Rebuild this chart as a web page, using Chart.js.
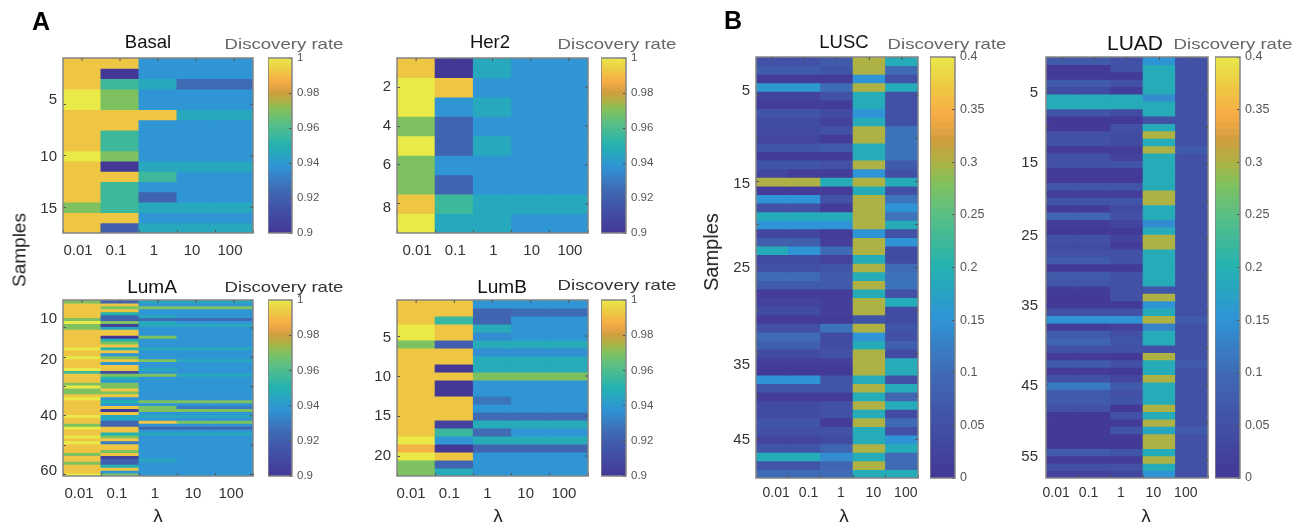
<!DOCTYPE html>
<html>
<head>
<meta charset="utf-8">
<title>Discovery rate</title>
<script src="https://cdn.jsdelivr.net/npm/chart.js"></script>
<style>
    html, body { margin: 0; padding: 0; background: #fff; }
    #page { position: relative; width: 1299px; height: 522px; overflow: hidden; font-family: "Liberation Sans", Arial, sans-serif; filter: blur(0.4px); }
    #page canvas { position: absolute; }
    .txt { position: absolute; white-space: nowrap; transform: translate(-50%, -50%); line-height: 1; }
</style>
</head>
<body>
<div id="page"></div>
<script>
// lambda values on the x axis of every heat map
const lambdaLabels = ['0.01', '0.1', '1', '10', '100'];

// one row per sample, one column per lambda
const basalRows = [
    [.992, .992, .938, .938, .938],
    [.992, .90, .938, .938, .938],
    [.992, .956, .946, .925, .925],
    [1, .969, .938, .938, .938],
    [1, .969, .938, .938, .938],
    [.992, .992, .992, .946, .946],
    [.992, .992, .938, .938, .938],
    [.992, .956, .938, .938, .938],
    [.992, .956, .938, .938, .938],
    [1, .969, .938, .938, .938],
    [.992, .90, .946, .946, .946],
    [.992, .992, .956, .938, .938],
    [.992, .956, .938, .938, .938],
    [.992, .956, .922, .938, .938],
    [.969, .956, .946, .946, .946],
    [.992, .992, .938, .938, .938],
    [.992, .92, .946, .946, .946]
];

const her2Rows = [
    [.992, .90, .946, .938, .938],
    [1, .992, .938, .938, .938],
    [1, .938, .946, .938, .938],
    [.969, .922, .938, .938, .938],
    [1, .922, .946, .938, .938],
    [.969, .938, .938, .938, .938],
    [.969, .922, .938, .938, .938],
    [.992, .956, .946, .946, .946],
    [1, .946, .946, .938, .938]
];

const lumaRows = [
    [.969, .922, .946, .946, .946],
    [.992, .992, .938, .938, .938],
    [.992, .969, .969, .969, .969],
    [.992, .992, .938, .938, .938],
    [.992, .95, .938, .938, .938],
    [.992, .922, .946, .938, .938],
    [.969, .922, .925, .925, .925],
    [1, .969, .946, .938, .938],
    [.969, .905, .946, .946, .946],
    [.969, .945, .938, .938, .938],
    [.992, .992, .938, .938, .938],
    [.992, .992, .938, .938, .938],
    [.992, .90, .969, .938, .938],
    [.992, .95, .938, .938, .938],
    [.992, .969, .938, .938, .938],
    [.992, .992, .938, .938, .938],
    [1, .95, .946, .946, .946],
    [.992, .992, .938, .938, .938],
    [.992, .938, .938, .938, .938],
    [1, .969, .938, .938, .938],
    [.992, .992, .969, .946, .946],
    [.992, .938, .938, .938, .938],
    [.992, .992, .938, .938, .938],
    [1, .992, .946, .938, .938],
    [.956, .91, .938, .938, .938],
    [.992, .969, .969, .946, .946],
    [.992, .95, .938, .938, .938],
    [.992, .938, .938, .938, .938],
    [.969, .969, .938, .938, .938],
    [1, .969, .938, .938, .938],
    [.969, .992, .938, .938, .938],
    [.969, .969, .938, .938, .938],
    [.992, .992, .938, .938, .938],
    [1, .938, .938, .938, .938],
    [.992, .95, .969, .969, .969],
    [.992, .938, .938, .938, .938],
    [.992, .992, .969, .93, .93],
    [.992, .90, .969, .969, .969],
    [.992, .992, .938, .938, .938],
    [1, .945, .946, .946, .946],
    [.992, .945, .938, .938, .938],
    [.992, .922, .992, .969, .969],
    [.969, .922, .938, .938, .938],
    [1, .992, .922, .922, .922],
    [.992, .992, .938, .938, .938],
    [.992, .95, .946, .946, .946],
    [1, .969, .938, .938, .938],
    [.992, .992, .938, .938, .938],
    [1, .93, .938, .938, .938],
    [.992, .992, .938, .938, .938],
    [.992, .992, .938, .938, .938],
    [.992, .969, .938, .938, .938],
    [.969, .992, .938, .938, .938],
    [.992, .905, .938, .938, .938],
    [.992, .92, .946, .938, .938],
    [.969, .92, .938, .938, .938],
    [.992, .95, .938, .938, .938],
    [.992, .992, .938, .938, .938],
    [.992, .938, .938, .938, .938],
    [1, .969, .938, .938, .938]
];

const lumbRows = [
    [.992, .992, .938, .938, .938],
    [.992, .992, .922, .925, .925],
    [.992, .955, .922, .938, .938],
    [1, .992, .947, .938, .938],
    [1, .992, .935, .938, .938],
    [.969, .92, .947, .947, .947],
    [.992, .992, .936, .936, .936],
    [.992, .992, .947, .947, .947],
    [.992, .90, .947, .947, .947],
    [.992, .992, .969, .969, .969],
    [.992, .90, .938, .938, .938],
    [.992, .90, .938, .938, .938],
    [.992, .992, .928, .938, .938],
    [.992, .992, .938, .938, .938],
    [.992, .992, .925, .925, .925],
    [.992, .905, .947, .947, .947],
    [.992, .955, .925, .938, .938],
    [1, .938, .948, .948, .948],
    [.988, .90, .922, .922, .922],
    [1, .992, .938, .938, .938],
    [.969, .922, .938, .938, .938],
    [.969, .947, .938, .938, .938]
];

const luscRows = [
    [.05, .05, .07, .30, .19],
    [.07, .07, .06, .30, .10],
    [.01, .01, .01, .15, .05],
    [.16, .16, .10, .30, .19],
    [.02, .02, .05, .19, .05],
    [.01, .01, .01, .19, .05],
    [.06, .06, .04, .15, .05],
    [.04, .04, .02, .19, .05],
    [.04, .04, .05, .30, .11],
    [.03, .03, .01, .30, .11],
    [.06, .06, .07, .19, .11],
    [.01, .01, .01, .19, .11],
    [.06, .06, .05, .30, .07],
    [.03, .01, .01, .15, .05],
    [.30, .30, .19, .30, .19],
    [.01, .01, .01, .19, .05],
    [.15, .15, .05, .30, .11],
    [.05, .05, .01, .30, .15],
    [.19, .19, .19, .30, .11],
    [.15, .15, .15, .30, .19],
    [.03, .03, .01, .15, .05],
    [.08, .08, .015, .30, .15],
    [.19, .15, .10, .30, .04],
    [.04, .04, .02, .19, .04],
    [.05, .05, .06, .30, .10],
    [.10, .10, .07, .19, .11],
    [.07, .07, .07, .30, .11],
    [.01, .01, .01, .19, .05],
    [.02, .02, .015, .30, .19],
    [.04, .04, .015, .30, .04],
    [.01, .01, .01, .06, .04],
    [.05, .05, .11, .30, .06],
    [.10, .10, .04, .15, .05],
    [.08, .08, .04, .19, .08],
    [.04, .04, .05, .30, .04],
    [.015, .015, .015, .30, .19],
    [.005, .005, .005, .30, .19],
    [.15, .15, .06, .19, .05],
    [.06, .06, .06, .30, .19],
    [.01, .01, .01, .19, .09],
    [.04, .04, .05, .30, .19],
    [.04, .04, .05, .19, .04],
    [.06, .06, .01, .30, .10],
    [.05, .05, .05, .19, .05],
    [.03, .03, .04, .19, .15],
    [.06, .06, .09, .30, .19],
    [.19, .19, .14, .19, .10],
    [.06, .06, .09, .30, .10],
    [.10, .10, .10, .19, .19]
];

const luadRows = [
    [.07, .07, .05, .15, .05],
    [.005, .005, .05, .19, .05],
    [.005, .005, .005, .19, .05],
    [.07, .07, .05, .19, .05],
    [.04, .04, .01, .19, .05],
    [.19, .19, .19, .14, .05],
    [.19, .19, .19, .19, .05],
    [.06, .06, .04, .19, .05],
    [.005, .005, .005, .05, .05],
    [.005, .005, .05, .19, .05],
    [.05, .05, .04, .30, .05],
    [.05, .05, .04, .19, .05],
    [.01, .01, .01, .30, .07],
    [.05, .05, .02, .19, .05],
    [.05, .05, .06, .19, .05],
    [.005, .005, .005, .19, .05],
    [.005, .005, .005, .19, .05],
    [.06, .06, .06, .19, .05],
    [.01, .01, .01, .30, .05],
    [.06, .06, .06, .30, .05],
    [.01, .01, .04, .19, .05],
    [.09, .09, .05, .19, .05],
    [.01, .01, .03, .14, .05],
    [.005, .005, .005, .19, .05],
    [.05, .05, .02, .30, .05],
    [.04, .04, .01, .30, .05],
    [.05, .05, .05, .19, .05],
    [.07, .07, .05, .19, .05],
    [.005, .005, .005, .19, .05],
    [.07, .07, .05, .19, .05],
    [.06, .06, .05, .19, .05],
    [.01, .01, .05, .06, .05],
    [.005, .005, .05, .30, .05],
    [.005, .005, .005, .15, .05],
    [.05, .05, .05, .19, .05],
    [.15, .15, .15, .30, .07],
    [.01, .01, .02, .13, .05],
    [.07, .07, .05, .19, .05],
    [.09, .09, .06, .19, .05],
    [.05, .05, .05, .05, .05],
    [.01, .01, .005, .30, .05],
    [.07, .07, .05, .19, .07],
    [.01, .01, .005, .19, .05],
    [.05, .05, .03, .30, .05],
    [.12, .12, .07, .19, .05],
    [.07, .07, .05, .19, .05],
    [.07, .07, .06, .19, .05],
    [.05, .05, .005, .30, .05],
    [.005, .005, .05, .19, .05],
    [.005, .005, .005, .30, .05],
    [.005, .005, .06, .18, .07],
    [.005, .005, .005, .30, .05],
    [.005, .005, .005, .30, .05],
    [.07, .07, .06, .19, .05],
    [.01, .01, .01, .30, .05],
    [.05, .05, .05, .19, .05],
    [.02, .02, .03, .15, .05]
];

// sample ticks
const basalTicks = [5, 10, 15];
const her2Ticks = [2, 4, 6, 8];
const lumaTicks = [10, 20, 30, 40, 50, 60];
const lumaLabels = ['10', '20', '40', '60'];
const lumbTicks = [5, 10, 15, 20];
const luscTicks = [5, 10, 15, 20, 25, 30, 35, 40, 45];
const luscLabels = ['5', '15', '25', '35', '45'];
const luadTicks = [5, 10, 15, 20, 25, 30, 35, 40, 45, 50, 55];
const luadLabels = ['5', '15', '25', '35', '45', '55'];

// colour bar ticks
const breastBarTicks = [0.9, 0.92, 0.94, 0.96, 0.98, 1];
const lungBarTicks = [0, 0.05, 0.1, 0.15, 0.2, 0.25, 0.3, 0.35, 0.4];

// parula as printed in the figure
const colorStops = [
    [0, [67, 56, 150]], [0.125, [66, 80, 165]], [0.25, [63, 107, 180]], [0.375, [47, 148, 214]],
    [0.5, [36, 178, 176]], [0.625, [90, 191, 133]], [0.7, [130, 193, 92]], [0.75, [174, 178, 68]],
    [0.8, [207, 158, 62]], [0.86, [247, 171, 70]], [0.92, [239, 198, 68]], [1, [233, 234, 72]]
];

function colorAt(t) {
    t = Math.max(0, Math.min(1, t));
    for (let i = 1; i < colorStops.length; i++) {
        if (t <= colorStops[i][0]) {
            const a = colorStops[i - 1], b = colorStops[i];
            const f = (t - a[0]) / (b[0] - a[0]);
            const c = a[1].map((v, k) => Math.round(v + (b[1][k] - v) * f));
            return 'rgb(' + c.join(',') + ')';
        }
    }
    return 'rgb(233,234,72)';
}

const page = document.getElementById('page');

function addCanvas(left, top, width, height) {
    const canvas = document.createElement('canvas');
    canvas.width = width;
    canvas.height = height;
    canvas.style.left = left + 'px';
    canvas.style.top = top + 'px';
    canvas.style.width = width + 'px';
    canvas.style.height = height + 'px';
    page.appendChild(canvas);
    return canvas;
}

function addText(text, x, y, style) {
    const el = document.createElement('div');
    el.className = 'txt';
    el.textContent = text;
    Object.assign(el.style, { left: x + 'px', top: y + 'px' }, style);
    page.appendChild(el);
}

// grey box round the plot, with the short ticks matlab puts on top and right
const frameBox = {
    id: 'frameBox',
    afterDraw(chart) {
        const a = chart.chartArea, c = chart.ctx;
        c.save();
        c.strokeStyle = '#858585';
        c.lineWidth = 1.5;
        c.strokeRect(a.left, a.top, a.right - a.left, a.bottom - a.top);
        c.restore();
    }
};

const topTicks = {
    id: 'topTicks',
    afterDraw(chart) {
        const a = chart.chartArea, c = chart.ctx, x = chart.scales.x, y = chart.scales.y;
        c.save();
        c.strokeStyle = '#555';
        c.lineWidth = 1;
        c.beginPath();
        x.ticks.forEach((t, i) => {
            const px = x.getPixelForTick(i);
            c.moveTo(px, a.top);
            c.lineTo(px, a.top + 3);
        });
        y.ticks.forEach(t => {
            if (t.label !== '') return;
            const py = y.getPixelForValue(t.value);
            c.moveTo(a.right, py);
            c.lineTo(a.right - 3, py);
        });
        c.stroke();
        c.restore();
    }
};

// chart.js keeps room for half a label at the ends of an axis, not wanted here
function noEndPadding(scale) {
    scale.paddingTop = 0;
    scale.paddingBottom = 0;
    scale.paddingLeft = 0;
    scale.paddingRight = 0;
}

function heatPanel(p) {
    const rows = p.rows;
    const canvas = addCanvas(p.left - 40, p.top - 2, p.width + 42, p.height + 32);
    const labelMap = {};
    p.labelAt.forEach((v, i) => { labelMap[v] = p.labels[i]; });
    const datasets = rows.map((row, i) => ({
        data: lambdaLabels.map(() => [i + 0.5, i + 1.5]),
        backgroundColor: row.map(v => colorAt((v - p.min) / (p.max - p.min))),
        borderWidth: 0,
        inflateAmount: 0.5,
        grouped: false,
        barPercentage: 1,
        categoryPercentage: 1
    }));
    new Chart(canvas, {
        type: 'bar',
        data: { labels: lambdaLabels, datasets: datasets },
        options: {
            responsive: false,
            animation: false,
            devicePixelRatio: 1,
            layout: { padding: { top: 2, right: 2, left: 0, bottom: 0 } },
            plugins: { legend: { display: false }, tooltip: { enabled: false } },
            scales: {
                x: {
                    grid: { drawOnChartArea: false, tickLength: -3, tickColor: '#555', z: 1 },
                    border: { display: false },
                    ticks: {
                        font: { size: p.tickFont, family: '"Liberation Sans"' },
                        color: '#333',
                        padding: p.xPad,
                        labelOffset: p.xOffset,
                        maxRotation: 0,
                        autoSkip: false
                    },
                    afterFit(scale) { scale.height = 30; noEndPadding(scale); }
                },
                y: {
                    reverse: true,
                    min: 0.5,
                    max: rows.length + 0.5,
                    grid: {
                        drawOnChartArea: false,
                        tickLength: -3,
                        tickColor: ctx => (ctx.tick && ctx.tick.label === '' ? '#555' : 'rgba(0,0,0,0)'),
                        z: 1
                    },
                    border: { display: false },
                    afterBuildTicks(scale) {
                        scale.ticks = p.ticks.map(v => ({ value: v })).concat(p.labelAt.map(v => ({ value: v + 1e-6 })));
                    },
                    ticks: {
                        font: { size: 15, family: '"Liberation Sans"' },
                        color: '#333',
                        padding: p.yPad || 9,
                        autoSkip: false,
                        callback(value) {
                            const key = Object.keys(labelMap).find(k => Math.abs(k - (value - 1e-6)) < 1e-9);
                            return key === undefined ? '' : labelMap[key];
                        }
                    },
                    afterFit(scale) { scale.width = 40; noEndPadding(scale); }
                }
            }
        },
        plugins: [frameBox, topTicks]
    });
}

function colorBar(p) {
    const canvas = addCanvas(p.left, p.top - 8, p.width + 50, p.height + 16);
    const steps = 64, span = p.max - p.min;
    const datasets = [];
    for (let i = 0; i < steps; i++) {
        datasets.push({
            data: [[p.min + span * i / steps, p.min + span * (i + 1) / steps]],
            backgroundColor: colorAt((i + 0.5) / steps),
            borderWidth: 0,
            inflateAmount: 0.5,
            grouped: false,
            barPercentage: 1,
            categoryPercentage: 1
        });
    }
    new Chart(canvas, {
        type: 'bar',
        data: { labels: [''], datasets: datasets },
        options: {
            responsive: false,
            animation: false,
            devicePixelRatio: 1,
            layout: { padding: { top: 8, bottom: 8, left: 0, right: 0 } },
            plugins: { legend: { display: false }, tooltip: { enabled: false } },
            scales: {
                x: { display: false },
                y: {
                    position: 'right',
                    min: p.min,
                    max: p.max,
                    grid: { drawOnChartArea: false, tickLength: -3, tickColor: '#555', z: 1 },
                    border: { display: false },
                    afterBuildTicks(scale) { scale.ticks = p.ticks.map(v => ({ value: v })); },
                    ticks: {
                        font: { size: p.font, family: '"Liberation Sans"' },
                        color: '#555',
                        padding: 8,
                        autoSkip: false,
                        callback: value => String(value)
                    },
                    afterFit(scale) { scale.width = 50; noEndPadding(scale); }
                }
            }
        },
        plugins: [frameBox]
    });
}

// A: breast cancer subtypes, B: lung
heatPanel({ rows: basalRows, left: 63, top: 58, width: 190, height: 175, min: 0.9, max: 1, ticks: basalTicks, labels: ['5', '10', '15'], labelAt: [4.55, 10.1, 15.16], tickFont: 15, xPad: 12, xOffset: -4 });
heatPanel({ rows: her2Rows, left: 397, top: 58, width: 191, height: 175, min: 0.9, max: 1, ticks: her2Ticks, labels: ['2', '4', '6', '8'], labelAt: [2, 4, 6, 8.22], tickFont: 15, xPad: 12, xOffset: 1 });
heatPanel({ rows: lumaRows, left: 63, top: 300, width: 190, height: 176, min: 0.9, max: 1, ticks: lumaTicks, labels: lumaLabels, labelAt: [7, 20.8, 40, 58.8], tickFont: 15, xPad: 12, xOffset: -3 });
heatPanel({ rows: lumbRows, left: 397, top: 300, width: 191, height: 176, min: 0.9, max: 1, ticks: lumbTicks, labels: ['5', '10', '15', '20'], labelAt: [5.2, 10.1, 15, 20], tickFont: 15, xPad: 12, xOffset: -5 });
heatPanel({ rows: luscRows, left: 756, top: 57, width: 162, height: 421, min: 0, max: 0.4, ticks: luscTicks, labels: luscLabels, labelAt: [4.45, 15.3, 25, 36.35, 45.07], tickFont: 14, xPad: 10, xOffset: 4 });
heatPanel({ rows: luadRows, left: 1046, top: 57, width: 162, height: 421, min: 0, max: 0.4, ticks: luadTicks, labels: luadLabels, labelAt: [5.37, 14.8, 24.7, 34.2, 45, 54.7], tickFont: 14, xPad: 10, xOffset: -6, yPad: 11 });

colorBar({ left: 268, top: 58, width: 24, height: 175, min: 0.9, max: 1, ticks: breastBarTicks, font: 11.5 });
colorBar({ left: 601, top: 58, width: 25, height: 175, min: 0.9, max: 1, ticks: breastBarTicks, font: 11.5 });
colorBar({ left: 268, top: 300, width: 24, height: 176, min: 0.9, max: 1, ticks: breastBarTicks, font: 11.5 });
colorBar({ left: 601, top: 300, width: 25, height: 176, min: 0.9, max: 1, ticks: breastBarTicks, font: 11.5 });
colorBar({ left: 930, top: 57, width: 25, height: 421, min: 0, max: 0.4, ticks: lungBarTicks, font: 12.5 });
colorBar({ left: 1215, top: 57, width: 25, height: 421, min: 0, max: 0.4, ticks: lungBarTicks, font: 12.5 });

const titleStyle = { fontSize: '18.5px', color: '#111' };
addText('Basal', 148, 42, titleStyle);
addText('Her2', 490, 42, titleStyle);
addText('LumA', 152, 286, Object.assign({}, titleStyle, { fontSize: '19px' }));
addText('LumB', 502, 286, Object.assign({}, titleStyle, { fontSize: '19px' }));
addText('LUSC', 844, 42, titleStyle);
addText('LUAD', 1135, 42, Object.assign({}, titleStyle, { fontSize: '21px' }));

const wide = 'translate(-50%, -50%) scaleX(1.24)';
const rateGrey = { fontSize: '15px', color: '#666', transform: wide };
const rateDark = { fontSize: '15px', color: '#333', transform: wide };
addText('Discovery rate', 284, 43, rateGrey);
addText('Discovery rate', 617, 43, rateGrey);
addText('Discovery rate', 284, 286, rateDark);
addText('Discovery rate', 617, 284, rateDark);
addText('Discovery rate', 947, 43, rateGrey);
addText('Discovery rate', 1233, 43, rateGrey);

addText('A', 41, 21, { fontSize: '25px', fontWeight: 'bold', color: '#000' });
addText('B', 733, 20, { fontSize: '25px', fontWeight: 'bold', color: '#000' });

const axisStyle = { fontSize: '19px', color: '#222' };
addText('Samples', 19, 250, Object.assign({}, axisStyle, { transform: 'translate(-50%, -50%) rotate(-90deg)' }));
addText('Samples', 711, 252, Object.assign({}, axisStyle, { fontSize: '20px', transform: 'translate(-50%, -50%) rotate(-90deg)' }));
addText('λ', 158, 515, axisStyle);
addText('λ', 498, 515, axisStyle);
addText('λ', 844, 515, axisStyle);
addText('λ', 1146, 515, axisStyle);
</script>
</body>
</html>
